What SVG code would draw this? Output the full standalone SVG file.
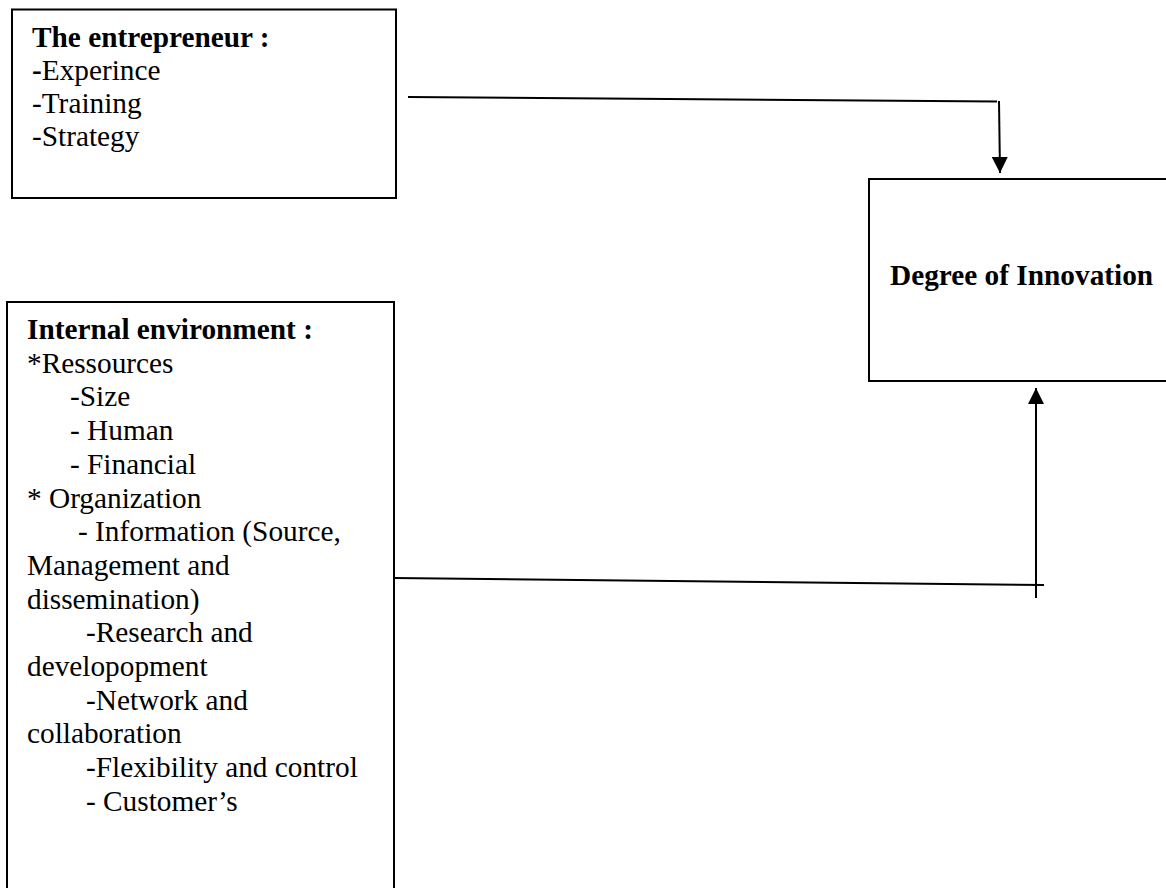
<svg xmlns="http://www.w3.org/2000/svg" width="1166" height="888" viewBox="0 0 1166 888">
  <style>
    .box { fill: #ffffff; stroke: #000000; stroke-width: 2; }
    .t { font-family: "Liberation Serif", "Times New Roman", serif; font-size: 29.3px; fill: #000000; }
    .b { font-weight: bold; }
    .conn { fill: none; stroke: #000000; stroke-width: 2; }
  </style>
  <defs>
    <marker id="arrow" markerUnits="userSpaceOnUse" markerWidth="16" markerHeight="16" refX="16" refY="8" orient="auto">
      <path d="M0,0 L16,8 L0,16 Z" fill="#000000"/>
    </marker>
  </defs>
  <rect width="1166" height="888" fill="#ffffff"/>

  <g id="node-entrepreneur">
    <rect class="box" x="12" y="9.5" width="384" height="188.5"/>
    <text class="t b" x="32" y="47">The entrepreneur :</text>
    <text class="t" x="32" y="80"><tspan class="b">-</tspan>Experince</text>
    <text class="t" x="32" y="113">-Training</text>
    <text class="t" x="32" y="146">-Strategy</text>
  </g>

  <g id="node-degree">
    <rect class="box" x="869" y="179" width="310" height="202"/>
    <text class="t b" x="890" y="285">Degree of Innovation</text>
  </g>

  <g id="node-internal">
    <rect class="box" x="7" y="302" width="387" height="600"/>
    <text class="t b" x="27" y="339">Internal environment :</text>
    <text class="t" x="27" y="372.7">*Ressources</text>
    <text class="t" x="70" y="406.4">-Size</text>
    <text class="t" x="70" y="440.1">- Human</text>
    <text class="t" x="70" y="473.8">- Financial</text>
    <text class="t" x="27" y="507.5">* Organization</text>
    <text class="t" x="78" y="541.2">- Information (Source,</text>
    <text class="t" x="27" y="574.9">Management and</text>
    <text class="t" x="27" y="608.6">dissemination)</text>
    <text class="t" x="86" y="642.3">-Research and</text>
    <text class="t" x="27" y="676">developopment</text>
    <text class="t" x="86" y="709.7">-Network and</text>
    <text class="t" x="27" y="743.4">collaboration</text>
    <text class="t" x="86" y="777.1">-Flexibility and control</text>
    <text class="t" x="86" y="810.8">- Customer’s</text>
  </g>

  <g id="connectors">
    <path class="conn" d="M408,97 L997,101.5"/>
    <path class="conn" d="M999,101 L1000,173" marker-end="url(#arrow)"/>
    <path class="conn" d="M394,578 L1044,585"/>
    <path class="conn" d="M1036,598 L1036,388" marker-end="url(#arrow)"/>
  </g>
</svg>
